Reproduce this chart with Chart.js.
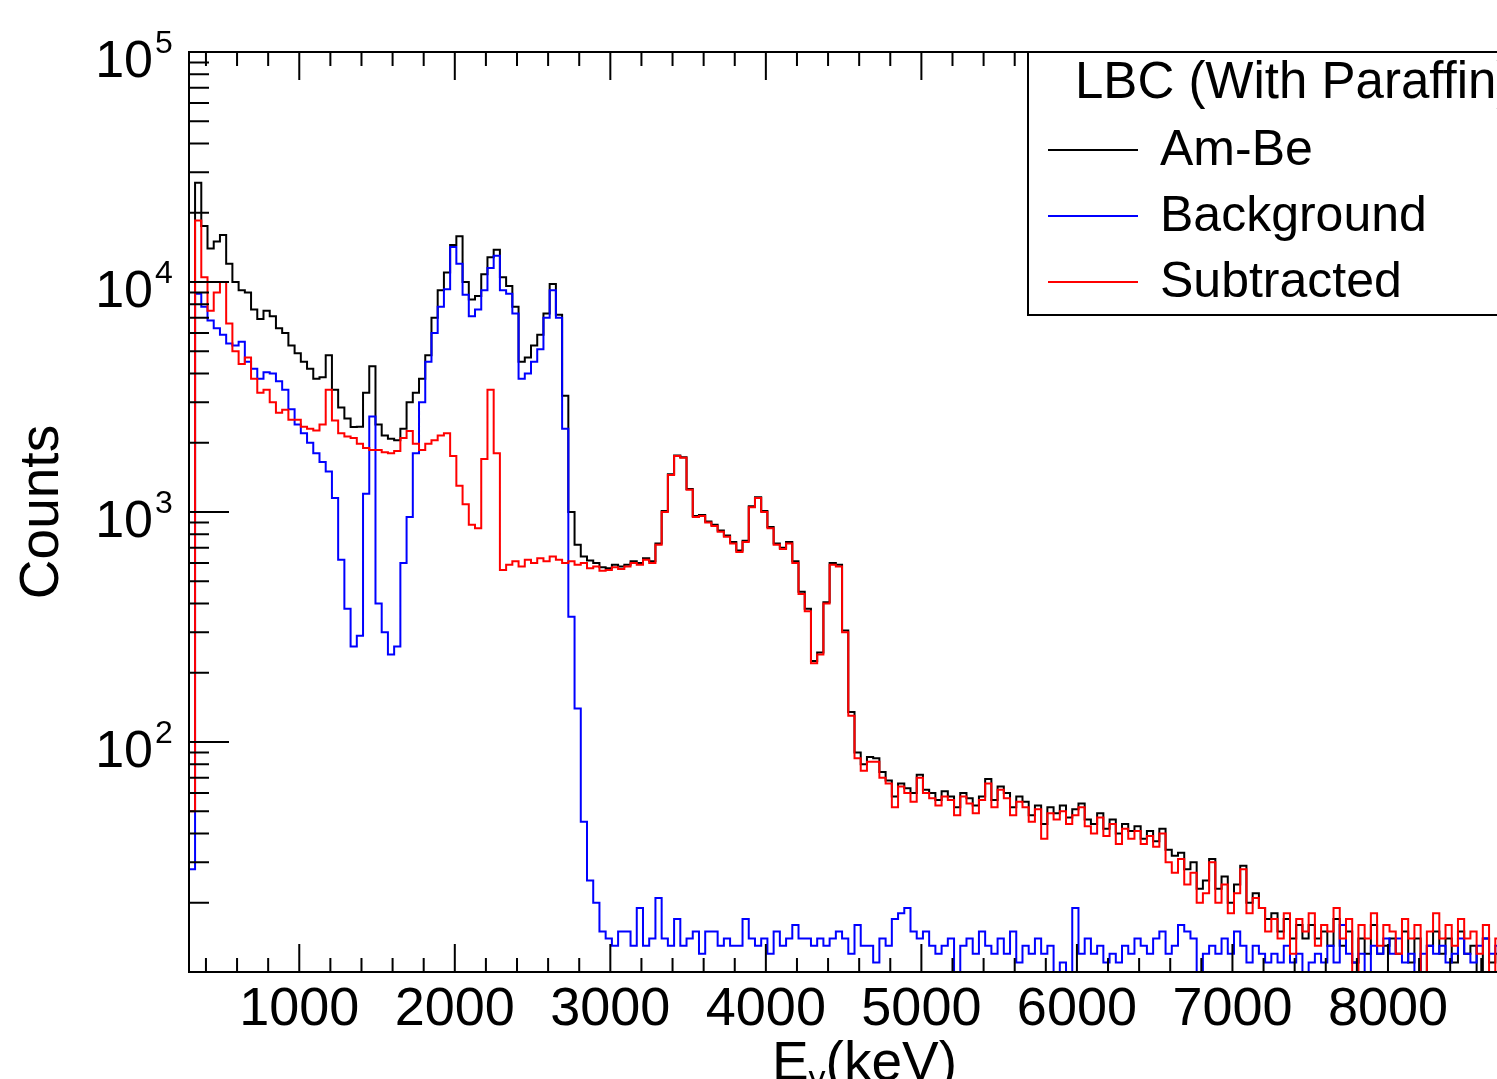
<!DOCTYPE html>
<html>
<head>
<meta charset="utf-8">
<title>LBC (With Paraffin) - gamma spectrum</title>
<script src="https://cdn.jsdelivr.net/npm/chart.js@4.4.1/dist/chart.umd.min.js"></script>
<style>
  html, body { margin: 0; padding: 0; background: #fff; overflow: hidden; }
  #wrap { width: 1497px; height: 1079px; }
</style>
</head>
<body>
<div id="wrap"><canvas id="spectrum" width="1497" height="1079"></canvas></div>
<script>
// histogram binning, keV
const binStart = 290;
const binWidth = 40;

// counts per bin
const amBe = [
  1000, 27000, 17500, 14000, 15000, 16000, 12000, 10000, 9200, 9000,
  7600, 6900, 7500, 7100, 6300, 6000, 5300, 4900, 4500, 4200,
  3800, 3850, 4800, 3400, 2850, 2550, 2340, 2350, 3300, 4300,
  2400, 2150, 2080, 2050, 2300, 3000, 3300, 3800, 4800, 7000,
  9200, 11000, 14500, 15800, 10000, 8400, 8700, 10800, 12800, 13800,
  10500, 9600, 7800, 4500, 4700, 5300, 5900, 7300, 9800, 7200,
  3200, 1000, 720, 640, 615, 600, 575, 570, 590, 580,
  590, 610, 600, 630, 610, 730, 1010, 1460, 1760, 1730,
  1260, 960, 970, 910, 880, 830, 790, 740, 680, 750,
  1060, 1160, 1010, 860, 730, 700, 740, 610, 450, 380,
  225, 245, 405, 600, 590, 305, 135, 90, 80, 86,
  85, 74, 68, 58, 66, 63, 60, 72, 62, 60,
  56, 61, 58, 52, 60, 57, 53, 58, 69, 56,
  64, 60, 52, 58, 55, 48, 53, 44, 52, 49,
  53, 47, 51, 54, 46, 44, 49, 42, 46, 40,
  44, 41, 43, 38, 41, 37, 42, 34, 32, 33,
  28, 30, 23, 25, 31, 23, 26, 20, 24, 29,
  20, 22, 19, 17, 18, 15, 17, 14, 16, 14,
  16, 14, 15, 13, 17, 13, 15, 11, 14, 12,
  16, 12, 13, 14, 12, 15, 11, 14, 10, 13,
  15, 12, 14, 11, 15, 12, 13, 10, 14, 11,
  12
];

const background = [
  28, 8900, 7800, 6800, 6300, 5900, 5400, 5300, 5500, 4500,
  4200, 3800, 4050, 4000, 3700, 3400, 2800, 2400, 2200, 2000,
  1800, 1650, 1500, 1150, 620, 380, 260, 290, 1200, 2600,
  400, 300, 240, 260, 600, 950, 1800, 3000, 4500, 6000,
  7800, 9300, 14200, 12000, 8800, 7100, 7600, 9200, 11500, 13000,
  9200, 8900, 7300, 3800, 4000, 4500, 5100, 7000, 9200, 7000,
  2300, 350, 140, 45, 25, 20, 15, 14, 13, 15,
  15, 13, 19, 13, 14, 21, 14, 13, 17, 13,
  14, 15, 12, 15, 15, 13, 14, 13, 13, 17,
  14, 13, 14, 12, 15, 13, 14, 16, 14, 14,
  13, 14, 13, 14, 15, 14, 12, 16, 13, 13,
  11, 14, 13, 17, 18, 19, 15, 14, 15, 13,
  12, 13, 14, 9, 13, 14, 12, 15, 13, 12,
  14, 12, 15, 11, 13, 12, 14, 12, 13, 9,
  11, 10, 19, 12, 14, 12, 13, 11, 12, 11,
  13, 12, 14, 13, 12, 14, 15, 12, 13, 16,
  15, 14, 9, 12, 13, 12, 14, 12, 15, 13,
  11, 13, 12, 11, 12, 11, 13, 11, 12, 10,
  11, 12, 11, 13, 11, 16, 12, 11, 12, 9,
  13, 12, 14, 12, 14, 11, 12, 10, 12, 13,
  12, 13, 11, 12, 14, 12, 11, 13, 14, 12,
  13
];

const subtracted = [
  50, 18500, 10500, 7500, 9000, 10000, 6600, 5000, 4400, 4700,
  3800, 3300, 3400, 3000, 2700, 2780, 2520, 2520, 2350, 2300,
  2260, 2400, 3400, 2500, 2200, 2130, 2100, 1980, 1900, 1860,
  1860, 1820, 1800, 1840, 2100, 2250, 1980, 1860, 1980, 2050,
  2150, 2200, 1750, 1300, 1080, 880, 850, 1700, 3400, 1800,
  560, 590, 610, 580, 620, 600, 630, 610, 640, 620,
  600, 610, 590, 600, 570, 580, 555, 560, 575, 565,
  580, 600, 590, 620, 600, 720, 1000, 1450, 1750, 1720,
  1250, 950, 960, 900, 870, 820, 780, 730, 670, 740,
  1050, 1150, 1000, 850, 720, 690, 730, 600, 440, 370,
  220, 240, 400, 590, 580, 300, 130, 85, 75, 82,
  82, 70, 66, 52, 64, 60, 55, 70, 60, 57,
  53, 58, 56, 48, 58, 54, 49, 56, 66, 52,
  62, 57, 48, 55, 52, 45, 51, 38, 49, 46,
  50, 44, 48, 52, 43, 40, 47, 39, 44, 36,
  42, 38, 41, 36, 39, 35, 40, 30, 27, 31,
  24, 27, 20, 22, 30, 20, 24, 18, 22, 28,
  18, 21, 19, 15, 17, 14, 18, 12, 17, 15,
  18, 13, 16, 15, 19, 14, 17, 9, 16, 14,
  18, 13, 16, 15, 12, 17, 14, 16, 9, 15,
  18, 14, 16, 13, 17, 14, 15, 12, 16, 9,
  14
];

const xTickLabels = [1000, 2000, 3000, 4000, 5000, 6000, 7000, 8000];
const yLabelExponents = [2, 3, 4, 5];
const legendTitle = 'LBC (With Paraffin)';

const FONT = '"Liberation Sans", Arial, Helvetica, sans-serif';

// bin edges -> points for a stepped line (last bin closed at its upper edge)
function toSteps(counts) {
  const pts = counts.map((c, i) => ({ x: binStart + i * binWidth, y: c }));
  pts.push({ x: binStart + counts.length * binWidth, y: counts[counts.length - 1] });
  return pts;
}

// ROOT-like frame: inward ticks, labels, titles and the legend box
const rootFrame = {
  id: 'rootFrame',
  afterDatasetsDraw(chart) {
    const { ctx, chartArea: area } = chart;
    const xs = chart.scales.x;
    const ys = chart.scales.y;
    ctx.save();
    ctx.strokeStyle = '#000';
    ctx.lineWidth = 2;
    ctx.beginPath();
    ctx.moveTo(area.right + 5, area.top);
    ctx.lineTo(area.left, area.top);
    ctx.lineTo(area.left, area.bottom);
    ctx.lineTo(area.right + 5, area.bottom);
    for (let e = 400; e < xs.max; e += 200) {
      const px = xs.getPixelForValue(e);
      const len = e % 1000 === 0 ? 28 : 14;
      ctx.moveTo(px, area.bottom);
      ctx.lineTo(px, area.bottom - len);
      ctx.moveTo(px, area.top);
      ctx.lineTo(px, area.top + len);
    }
    for (let dec = 10; dec < 1e5; dec *= 10) {
      for (let m = 1; m <= 9; m++) {
        const v = m * dec;
        if (v <= ys.min) continue;
        const py = ys.getPixelForValue(v);
        const len = m === 1 ? 40 : 20;
        ctx.moveTo(area.left, py);
        ctx.lineTo(area.left + len, py);
      }
    }
    ctx.stroke();

    ctx.fillStyle = '#000';
    ctx.textBaseline = 'alphabetic';

    // x tick labels
    ctx.font = '54px ' + FONT;
    ctx.textAlign = 'center';
    xTickLabels.forEach(v => ctx.fillText(String(v), xs.getPixelForValue(v), area.bottom + 53));

    // y tick labels 10^n
    yLabelExponents.forEach(p => {
      const py = ys.getPixelForValue(Math.pow(10, p));
      ctx.font = '52px ' + FONT;
      ctx.textAlign = 'right';
      ctx.fillText('10', area.left - 36, py + 25);
      ctx.font = '32px ' + FONT;
      ctx.textAlign = 'left';
      ctx.fillText(String(p), area.left - 34, py + 1);
    });

    // y title
    ctx.save();
    ctx.translate(58, 512);
    ctx.rotate(-Math.PI / 2);
    ctx.font = '55px ' + FONT;
    ctx.textAlign = 'center';
    ctx.fillText('Counts', 0, 0);
    ctx.restore();

    // x title E_gamma (keV)
    ctx.textAlign = 'left';
    ctx.font = '55px ' + FONT;
    const wE = ctx.measureText('E').width;
    const wK = ctx.measureText('(keV)').width;
    ctx.font = '34px ' + FONT;
    const wG = ctx.measureText('\u03b3').width;
    const tx = 957 - (wE + wG + wK);
    ctx.font = '55px ' + FONT;
    ctx.fillText('E', tx, 1080);
    ctx.font = '34px ' + FONT;
    ctx.fillText('\u03b3', tx + wE, 1089);
    ctx.font = '55px ' + FONT;
    ctx.fillText('(keV)', tx + wE + wG, 1080);

    // legend
    const lx = 1028, ly = 52, lh = 263;
    ctx.fillStyle = '#fff';
    ctx.fillRect(lx, ly, 600, lh);
    ctx.strokeStyle = '#000';
    ctx.lineWidth = 2;
    ctx.strokeRect(lx, ly, 600, lh);
    ctx.fillStyle = '#000';
    ctx.font = '51px ' + FONT;
    ctx.fillText(legendTitle, lx + 47, ly + 46);
    ctx.font = '50px ' + FONT;
    chart.data.datasets.forEach((ds, i) => {
      const rowY = ly + 98 + i * 66;
      ctx.strokeStyle = ds.borderColor;
      ctx.lineWidth = 2;
      ctx.beginPath();
      ctx.moveTo(lx + 20, rowY);
      ctx.lineTo(lx + 110, rowY);
      ctx.stroke();
      ctx.fillText(ds.label, lx + 132, rowY + 15);
    });
    ctx.restore();
  }
};

new Chart(document.getElementById('spectrum'), {
  type: 'line',
  data: {
    datasets: [
      { label: 'Am-Be', data: toSteps(amBe), borderColor: '#000000', order: 3 },
      { label: 'Background', data: toSteps(background), borderColor: '#0000ff', order: 2 },
      { label: 'Subtracted', data: toSteps(subtracted), borderColor: '#ff0000', order: 1 }
    ]
  },
  options: {
    responsive: false,
    animation: false,
    devicePixelRatio: 1,
    layout: { padding: { left: 189, top: 52, right: 0, bottom: 107 } },
    elements: {
      line: { stepped: true, borderWidth: 2, fill: false, tension: 0 },
      point: { radius: 0, hoverRadius: 0 }
    },
    scales: {
      x: { type: 'linear', min: 291, max: 8701, display: false },
      y: { type: 'logarithmic', min: 10, max: 100000, display: false }
    },
    plugins: {
      legend: { display: false },
      tooltip: { enabled: false }
    }
  },
  plugins: [rootFrame]
});
</script>
</body>
</html>
